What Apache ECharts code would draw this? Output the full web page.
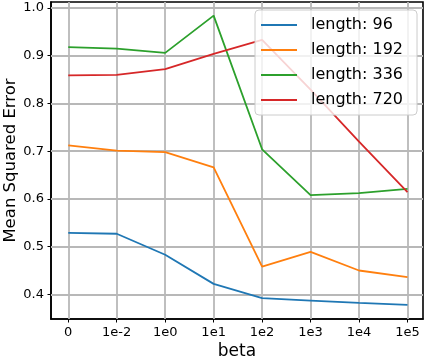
<!DOCTYPE html>
<html>
<head>
<meta charset="utf-8">
<script src="https://cdn.jsdelivr.net/npm/echarts@6/dist/echarts.min.js"></script>
<style>
  html, body { margin: 0; padding: 0; background: #fff; }
  #chart { width: 427px; height: 359px; }
</style>
</head>
<body>
<div id="chart"></div>
<script>
// beta values on the x axis (evenly spaced categories)
const betas = ['0', '1e-2', '1e0', '1e1', '1e2', '1e3', '1e4', '1e5']
const yTicks = [0.4, 0.5, 0.6, 0.7, 0.8, 0.9, 1.0]

const seriesNames = ['length: 96', 'length: 192', 'length: 336', 'length: 720']
const mse96 = [0.529, 0.527, 0.483, 0.422, 0.392, 0.387, 0.382, 0.378]
const mse192 = [0.712, 0.701, 0.698, 0.666, 0.458, 0.489, 0.450, 0.436]
const mse336 = [0.918, 0.915, 0.906, 0.984, 0.704, 0.608, 0.612, 0.621]
const mse720 = [0.859, 0.860, 0.872, 0.904, 0.933, 0.829, 0.720, 0.614]
const colors = ['#1f77b4', '#ff7f0e', '#2ca02c', '#d62728']

const font = 'DejaVu Sans'
const xTickValues = betas.map((b, i) => i)

const chart = echarts.init(document.getElementById('chart'), null, { renderer: 'canvas' })

const allSeries = [mse96, mse192, mse336, mse720].map((vals, i) => ({
  name: seriesNames[i],
  type: 'line',
  z: 3,
  data: vals.map((v, j) => [j, v]),
  symbol: 'none',
  lineStyle: { width: 1.8, color: colors[i] },
  itemStyle: { color: colors[i] },
  animation: false
}))

// grid lines at the tick positions (matplotlib style grid)
allSeries.push({
  name: 'grid',
  type: 'line',
  z: 1,
  data: [],
  silent: true,
  animation: false,
  markLine: {
    z: 1,
    silent: true,
    animation: false,
    symbol: ['none', 'none'],
    label: { show: false },
    emphasis: { disabled: true },
    lineStyle: { color: '#b8b8b8', width: 1.8, type: 'solid' },
    data: xTickValues.map(v => ({ xAxis: v })).concat(yTicks.map(v => ({ yAxis: v })))
  }
})

chart.setOption({
  animation: false,
  grid: {
    left: 51, top: 2, width: 372, height: 317,
    outerBoundsMode: 'none', containLabel: false,
    show: true, borderColor: '#000', borderWidth: 1.6, backgroundColor: 'transparent'
  },
  legend: {
    left: 255, top: 10, z: 10,
    orient: 'vertical',
    data: seriesNames,
    icon: 'path://M0,0 L36,0 L36,2 L0,2 Z',
    itemWidth: 36, itemHeight: 14,
    itemGap: 7,
    padding: [6, 14, 6, 6],
    backgroundColor: 'rgba(255,255,255,0.8)',
    borderColor: '#cccccc', borderWidth: 1, borderRadius: 4,
    textStyle: { fontFamily: font, fontSize: 16, color: '#000', lineHeight: 18, padding: [0, 0, 0, 9] }
  },
  xAxis: {
    type: 'value',
    min: -0.356, max: 7.32,
    name: 'beta', nameLocation: 'middle', nameGap: 24, nameMoveOverlap: false,
    nameTextStyle: { fontFamily: font, fontSize: 17, color: '#000' },
    axisLine: { show: true, onZero: false, lineStyle: { color: '#000', width: 1.6 } },
    axisTick: { show: true, length: 3.5, customValues: xTickValues, lineStyle: { color: '#000', width: 1 } },
    axisLabel: {
      customValues: xTickValues,
      fontFamily: font, fontSize: 13, color: '#000', margin: 7,
      formatter: v => betas[Math.round(v)]
    },
    splitLine: { show: false }
  },
  yAxis: {
    type: 'value',
    min: 0.3484, max: 1.0126,
    name: 'Mean Squared Error', nameLocation: 'middle', nameGap: 32, nameMoveOverlap: false,
    nameTextStyle: { fontFamily: font, fontSize: 16.5, color: '#000' },
    axisLine: { show: true, onZero: false, lineStyle: { color: '#000', width: 1.6 } },
    axisTick: { show: true, length: 3.5, customValues: yTicks, lineStyle: { color: '#000', width: 1 } },
    axisLabel: {
      customValues: yTicks,
      fontFamily: font, fontSize: 13, color: '#000', margin: 7,
      formatter: v => v.toFixed(1)
    },
    splitLine: { show: false }
  },
  series: allSeries
})
</script>
</body>
</html>
